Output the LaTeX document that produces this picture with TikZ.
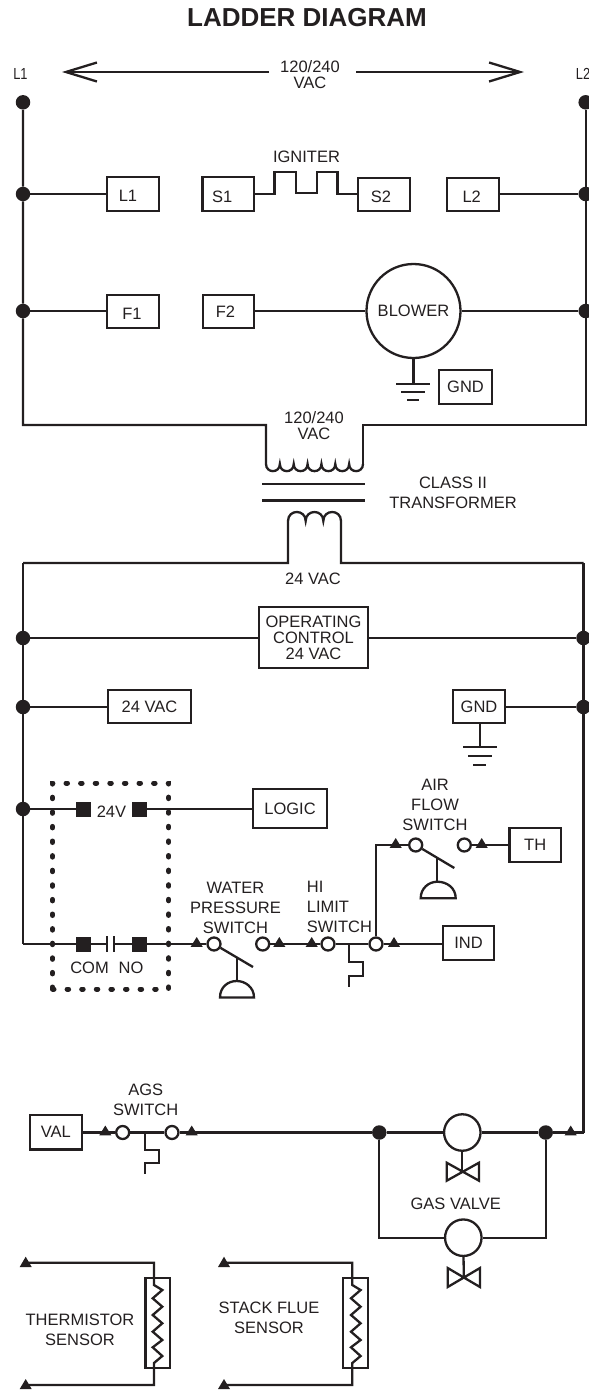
\documentclass[tikz,border=0pt]{standalone}
\usepackage{fontspec}
\setmainfont{Liberation Sans}
\usetikzlibrary{arrows.meta}
\newcommand\shifted[3]{\raisebox{\dimexpr-5.9pt-#2pt\relax}[0pt][0pt]{\makebox[0pt]{\hspace{\dimexpr 2\dimexpr #1pt\relax\relax}#3}}}
\newcommand\trimark[2]{\fill[ink] (#1,#2) ++(-6,2.8) -- ++(12,0) -- ++(-6,-9.8) -- cycle;}
\newcommand\lobe[1]{.. controls +(0,9.5) and (#1,473.5) .. (#1,464)}
\definecolor{ink}{HTML}{231F20}
\tikzset{
  wire/.style={draw=ink,line width=2.3pt,line join=miter},
  lab/.style={inner sep=0pt,align=center,text=ink,font=\fontsize{16.5}{20}\selectfont},
  tight/.style={lab,font=\fontsize{16.5}{16}\selectfont},
  boxed/.style={draw=ink,line width=2.3pt,inner sep=0pt,text=ink,font=\fontsize{16.5}{20}\selectfont,align=center},
  dot/.style={circle,fill=ink,inner sep=0pt,minimum size=14.5pt},
  ring/.style={circle,draw=ink,line width=2.3pt,inner sep=0pt,minimum size=13pt},
  pad/.style={rectangle,fill=ink,inner sep=0pt,minimum width=15pt,minimum height=15pt},
  barb/.style={-{Straight Barb[length=31pt,width=19pt,line width=2.3pt]}},
}
\begin{document}
\begin{tikzpicture}[x=1pt,y=-1pt]
\useasboundingbox (0,0) rectangle (589,1395);
% titles and top labels
\node[lab,font=\fontsize{26}{30}\selectfont\bfseries] (title) at (307,18) {LADDER DIAGRAM};
\node[lab,font=\fontsize{16}{20}\selectfont] (labL1) at (20.5,74) {\scalebox{0.8}[1]{L1}};
\node[lab,font=\fontsize{16}{20}\selectfont] (labL2) at (583,74) {\scalebox{0.8}[1]{L2}};
\node[tight] (vac) at (310,74.5) {120/240\\VAC};
\coordinate (arA) at (269,72); \coordinate (arB) at (62,72);
\coordinate (arC) at (356,72); \coordinate (arD) at (524,72);
\draw[wire,barb] (arA) -- (arB);
\draw[wire,barb] (arC) -- (arD);
% top buses
\node[dot] (dl0) at (23,102.3) {}; \node[dot] (dr0) at (585.7,102.3) {};
\node[dot] (dl1) at (23,194) {}; \node[dot] (dr1) at (585.7,194) {};
\node[dot] (dl2) at (23,311) {}; \node[dot] (dr2) at (585.7,311) {};
\coordinate (cl) at (23,425); \coordinate (cr) at (585.7,425);
\coordinate (pl) at (266,425); \coordinate (pr) at (363,425);
\coordinate (pl2) at (266,464); \coordinate (pr2) at (363,464);
\draw[wire] (dl0) -- (dl1) -- (dl2) -- (cl) -- (pl) -- (pl2)
  \lobe{279.857} \lobe{293.714} \lobe{307.571} \lobe{321.429} \lobe{335.286} \lobe{349.143} \lobe{363};
\draw[wire] (dr0) -- (dr1) -- (dr2) -- (cr) -- (pr) -- (pr2);
% rung 1
\node[boxed,minimum width=52pt,minimum height=34pt] (bL1) at (133,194) {\shifted{-5}{2}{L1}};
\node[boxed,minimum width=51.5pt,minimum height=34pt] (bS1) at (228.2,194) {\shifted{-6}{3}{S1}};
\node[boxed,minimum width=52pt,minimum height=33pt] (bS2) at (384,194.5) {\shifted{-3}{2.5}{S2}};
\node[boxed,minimum width=52pt,minimum height=33pt] (bL2) at (472.7,194.5) {\shifted{-1}{2.5}{L2}};
\node[lab] (ign) at (306.5,157) {IGNITER};
\draw[wire] (dl1) -- (bL1);
\draw[wire] (bL2.east |- dr1) -- (dr1);
\coordinate (z1) at (274.5,194); \coordinate (z2) at (274.5,172); \coordinate (z3) at (296,172);
\coordinate (z4) at (296,193); \coordinate (z5) at (317,193); \coordinate (z6) at (317,172);
\coordinate (z7) at (337.5,172); \coordinate (z8) at (337.5,194);
\draw[wire] (bS1.east |- z1) -- (z1) -- (z2) -- (z3) -- (z4) -- (z5) -- (z6) -- (z7) -- (z8) -- (bS2.west |- z8);
% rung 2
\node[boxed,minimum width=52pt,minimum height=33pt] (bF1) at (133,311.5) {\shifted{-1}{2.5}{F1}};
\node[boxed,minimum width=51.5pt,minimum height=33pt] (bF2) at (228.5,311.5) {\shifted{-3}{0.5}{F2}};
\node[boxed,circle,minimum size=94pt] (blower) at (413.5,311) {BLOWER};
\draw[wire] (dl2) -- (bF1.west |- dl2);
\draw[wire] (bF2.east |- blower) -- (blower);
\draw[wire] (blower) -- (dr2);
\node[boxed,minimum width=53pt,minimum height=34pt] (bG1) at (465.5,387) {GND};
\coordinate (g1) at (413.5,384); \coordinate (g1a) at (396,384); \coordinate (g1b) at (430,384);
\coordinate (g1c) at (401,392); \coordinate (g1d) at (425,392);
\coordinate (g1e) at (407,400); \coordinate (g1f) at (419,400);
\draw[wire] (blower.south) -- (g1);
\draw[wire] (g1a) -- (g1b); \draw[wire] (g1c) -- (g1d); \draw[wire] (g1e) -- (g1f);
% transformer
\node[tight] (pv) at (314,426) {120/240\\VAC};
\node[lab] (ct) at (453,493) {CLASS II\\TRANSFORMER};
\node[lab] (sv) at (313,579) {24 VAC};
\coordinate (k1) at (262,484); \coordinate (k2) at (365,484);
\coordinate (k3) at (262,500.5); \coordinate (k4) at (365,500.5);
\draw[wire] (k1) -- (k2); \draw[wire] (k3) -- (k4);
\coordinate (sl) at (288,563); \coordinate (sr) at (341,563);
\coordinate (sl2) at (288,521); \coordinate (sr2) at (341,521);
\coordinate (bl) at (23,563); \coordinate (br) at (583.5,563);
\draw[wire] (bl) -- (sl) -- (sl2) .. controls +(0,-12) and (305.67,509) .. (305.67,521)
  .. controls (305.67,509) and (323.33,509) .. (323.33,521)
  .. controls (323.33,509) and (341,509) .. (sr2) -- (sr) -- (br);
% 24 V rungs
\node[dot] (dl3) at (23,638) {}; \node[dot] (dr3) at (583.5,638) {};
\node[dot] (dl4) at (23,707) {}; \node[dot] (dr4) at (583.5,707) {};
\node[dot] (dl5) at (23,809) {};
\coordinate (cl2) at (23,944); \coordinate (cr2) at (583.5,1132.5);
\draw[wire] (bl) -- (dl3) -- (dl4) -- (dl5) -- (cl2);
\draw[wire] (br) -- (dr3) -- (dr4) -- (cr2);
\node[boxed,font=\fontsize{16.5}{16}\selectfont,minimum width=109pt,minimum height=61pt] (opc) at (313.5,637.5) {OPERATING\\CONTROL\\24 VAC};
\draw[wire] (dl3) -- (opc.west |- dl3); \draw[wire] (opc.east |- dr3) -- (dr3);
\node[boxed,minimum width=83pt,minimum height=33pt] (b24) at (149.5,706.5) {24 VAC};
\draw[wire] (dl4) -- (b24.west |- dl4);
\node[boxed,minimum width=52pt,minimum height=33pt] (bG2) at (479,706.5) {GND};
\draw[wire] (bG2.east |- dr4) -- (dr4);
\coordinate (g2) at (480,747); \coordinate (g2a) at (463,747); \coordinate (g2b) at (497,747);
\coordinate (g2c) at (468,756); \coordinate (g2d) at (492,756);
\coordinate (g2e) at (473,765); \coordinate (g2f) at (486,765);
\draw[wire] (bG2.south -| g2) -- (g2);
\draw[wire] (g2a) -- (g2b); \draw[wire] (g2c) -- (g2d); \draw[wire] (g2e) -- (g2f);
% relay box
\node[draw=ink,line width=5pt,line cap=round,dash pattern=on 1.5pt off 13.1pt,minimum width=116.2pt,minimum height=206pt,inner sep=0pt] (relay) at (110.6,886) {};
\node[pad] (p1) at (83.5,809) {}; \node[pad] (p2) at (139.5,809) {};
\node[pad] (p3) at (83.5,944) {}; \node[pad] (p4) at (139.5,944) {};
\node[lab] (l24) at (111.5,812) {24V};
\node[lab] (lcom) at (89.5,968) {COM};
\node[lab] (lno) at (131,968) {NO};
\node[boxed,minimum width=73.5pt,minimum height=39pt] (logic) at (290,808.5) {LOGIC};
\draw[wire] (dl5) -- (p1);
\draw[wire] (p2) -- (logic.west |- p2);
\coordinate (c1) at (107.3,944); \coordinate (c2) at (114.3,944);
\coordinate (c1a) at (107.3,936); \coordinate (c1b) at (107.3,952);
\coordinate (c2a) at (114.3,936); \coordinate (c2b) at (114.3,952);
\draw[wire] (cl2) -- (p3); \draw[wire] (p3) -- (c1); \draw[wire] (c2) -- (p4);
\draw[wire,line width=1.8pt] (c1a) -- (c1b); \draw[wire,line width=1.8pt] (c2a) -- (c2b);
% water pressure switch
\node[ring] (w1) at (214,944) {}; \node[ring] (w2) at (262.7,944) {};
\node[ring] (h1) at (328,944) {}; \node[ring] (h2) at (376,944) {};
\node[lab] (lw) at (235.5,907.5) {WATER\\PRESSURE\\SWITCH};
\node[lab,align=left,anchor=west] (lh) at (306.7,906.5) {HI\\LIMIT\\SWITCH};
\node[boxed,minimum width=51.6pt,minimum height=34pt] (ind) at (468.5,943) {IND};
\draw[wire] (p4) -- (w1); \draw[wire] (w2) -- (h1); \draw[wire] (h1) -- (h2); \draw[wire] (h2) -- (ind.west |- h2);
\trimark{196.7}{944} \trimark{279.3}{944} \trimark{311.7}{944} \trimark{394}{944}
\coordinate (wb) at (253,967); \coordinate (wm) at (236.7,957.5); \coordinate (wd) at (236.7,981);
\draw[wire] (w1) -- (wb); \draw[wire] (wm) -- (wd);
\coordinate (wd1) at (220,997.5); \coordinate (wd2) at (254,997.5);
\draw[wire] (wd1) .. controls (220,987) and (228,981) .. (wd) .. controls (245,981) and (254,987) .. (wd2) -- cycle;
\coordinate (s1) at (349,944); \coordinate (s2) at (349,961.7); \coordinate (s3) at (363.3,961.7);
\coordinate (s4) at (363.3,976); \coordinate (s5) at (349,976); \coordinate (s6) at (349,987);
\draw[wire] (s1) -- (s2) -- (s3) -- (s4) -- (s5) -- (s6);
% air flow switch
\node[ring] (a1) at (415.7,845) {}; \node[ring] (a2) at (464.3,845) {};
\node[lab] (la) at (435,805) {AIR\\FLOW\\SWITCH};
\node[boxed,minimum width=51.7pt,minimum height=33.7pt] (th) at (535.2,845) {TH};
\coordinate (ac) at (376,845);
\draw[wire] (h2) -- (ac) -- (a1);
\draw[wire] (a2) -- (th);
\trimark{395.7}{845} \trimark{481.7}{845}
\coordinate (ab) at (454.3,868); \coordinate (am) at (437.3,858); \coordinate (ad) at (437.3,881.7);
\draw[wire] (a1) -- (ab); \draw[wire] (am) -- (ad);
\coordinate (ad1) at (420.7,898.3); \coordinate (ad2) at (455.7,898.3);
\draw[wire] (ad1) .. controls (420.7,888) and (429,881.7) .. (ad) .. controls (447,881.7) and (455.7,888) .. (ad2) -- cycle;
% AGS / gas valve
\node[boxed,minimum width=51.7pt,minimum height=34.3pt] (val) at (55.8,1132.2) {VAL};
\node[ring] (g1r) at (122.7,1132.5) {}; \node[ring] (g2r) at (172,1132.5) {};
\node[lab] (lags) at (145.7,1100) {AGS\\SWITCH};
\draw[wire] (val.east |- g1r) -- (g1r); \draw[wire] (g1r) -- (g2r);
\trimark{105.3}{1132.5} \trimark{191.7}{1132.5} \trimark{570.7}{1132.5}
\coordinate (t1) at (145.3,1132.5); \coordinate (t2) at (145.3,1150); \coordinate (t3) at (159.3,1150);
\coordinate (t4) at (159.3,1163.3); \coordinate (t5) at (145.3,1163.3); \coordinate (t6) at (145.3,1174.3);
\draw[wire] (t1) -- (t2) -- (t3) -- (t4) -- (t5) -- (t6);
\node[dot] (vd1) at (379.3,1132.5) {}; \node[dot] (vd2) at (545.7,1132.5) {};
\node[ring,minimum size=36.5pt] (v1) at (462.3,1132.5) {};
\node[ring,minimum size=36.5pt] (v2) at (463.3,1237.7) {};
\node[lab] (lgv) at (455.7,1204) {GAS VALVE};
\draw[wire] (g2r) -- (vd1); \draw[wire] (vd1) -- (v1); \draw[wire] (v1) -- (vd2); \draw[wire] (vd2) -- (cr2);
\coordinate (vl) at (379.3,1237.7); \coordinate (vr) at (545.7,1237.7);
\draw[wire] (vd1) -- (vl) -- (v2); \draw[wire] (v2) -- (vr) -- (vd2);
\coordinate (b1) at (462.3,1171.7);
\draw[wire] (v1) -- (b1);
\draw[wire] (446.7,1162.7) -- (479,1180.7) -- (479,1162.7) -- (446.7,1180.7) -- cycle;
\coordinate (b2) at (463.8,1277.5);
\draw[wire] (v2) -- (b2);
\draw[wire] (447.7,1268) -- (480,1287) -- (480,1268) -- (447.7,1287) -- cycle;
% sensors
\node[lab] (lth) at (80,1330) {THERMISTOR\\SENSOR};
\node[lab] (lst) at (269,1318) {STACK FLUE\\SENSOR};
\node[boxed,minimum width=24.7pt,minimum height=90.6pt] (rs1) at (157.7,1323) {};
\node[boxed,minimum width=25pt,minimum height=90.6pt] (rs2) at (355.8,1323) {};
\foreach \o/\n/\tx in {0/a/25.7,198.3/b/224} {
  \coordinate (\n T) at (\tx,1262.7); \coordinate (\n B) at (\tx,1385);
  \coordinate (\n C) at (\o+154,1262.7); \coordinate (\n D) at (\o+154,1385);
  \draw[wire] (\n T) -- (\n C) -- (\o+154,1285)
    -- (\o+162.3,1290) -- (\o+152.7,1298.3) -- (\o+162.3,1306.7) -- (\o+152.7,1315)
    -- (\o+162.3,1323.3) -- (\o+152.7,1331.7) -- (\o+162.3,1340) -- (\o+152.7,1347.3)
    -- (\o+162.3,1356) -- (\o+154,1363) -- (\n D) -- (\n B);
  \fill[ink] (\tx-6,1267) -- (\tx+6,1267) -- (\tx,1256.7) -- cycle;
  \fill[ink] (\tx-6,1389) -- (\tx+6,1389) -- (\tx,1379) -- cycle;
}
\end{tikzpicture}
\end{document}
